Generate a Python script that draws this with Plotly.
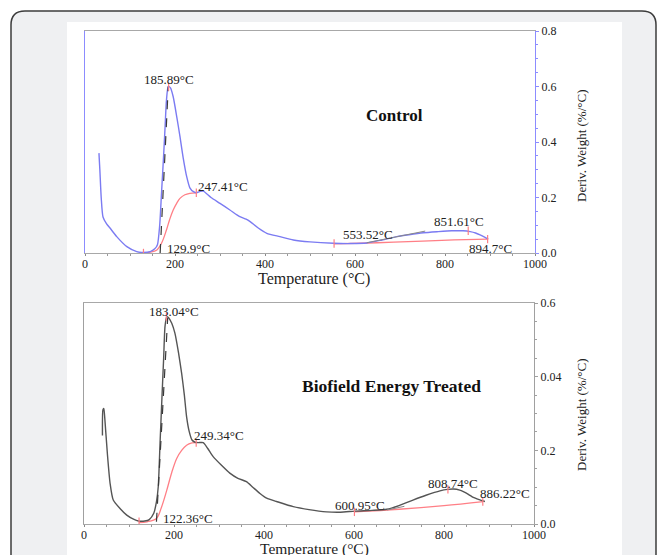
import plotly.graph_objects as go

W, H = 666, 555

# ---------------- data ----------------
x_ticks = [0, 200, 400, 600, 800, 1000]

# Control DTG curve
ctrl_T = [31, 33, 36, 40, 48, 56, 70, 93, 115, 126, 145, 155, 161, 166, 170, 175, 178, 181, 185,
          190, 196, 204, 211, 218, 226, 233, 241, 248, 256, 263, 280, 300, 322, 344, 358, 367,
          385, 404, 433, 463, 500, 552, 590, 626, 660, 693, 720, 752, 785, 815, 840, 856, 868,
          878, 888, 896]
ctrl_dtg = [0.36, 0.30, 0.20, 0.13, 0.105, 0.089, 0.06, 0.023, 0.005, 0.002, 0.005, 0.015, 0.03,
            0.10, 0.215, 0.36, 0.455, 0.55, 0.60, 0.595, 0.563, 0.49, 0.42, 0.345, 0.275, 0.235,
            0.221, 0.217, 0.222, 0.223, 0.20, 0.179, 0.155, 0.131, 0.122, 0.113, 0.09, 0.071,
            0.059, 0.047, 0.040, 0.035, 0.034, 0.036, 0.047, 0.059, 0.066, 0.073, 0.077, 0.080,
            0.080, 0.077, 0.072, 0.065, 0.057, 0.050]
ctrl_base1_T = [130, 145, 159, 170, 181, 188, 196, 204, 211, 222, 233, 247]
ctrl_base1_v = [0.0, 0.003, 0.01, 0.035, 0.083, 0.12, 0.155, 0.18, 0.197, 0.21, 0.215, 0.217]
ctrl_base2_T = [553, 650, 750, 820, 896]
ctrl_base2_v = [0.033, 0.037, 0.043, 0.047, 0.050]
ctrl_tan1_T = [167, 185]
ctrl_tan1_v = [0.0, 0.60]
ctrl_tan2_T = [626, 756]
ctrl_tan2_v = [0.037, 0.079]
ctrl_mark_T = [129.9, 185.89, 247.41, 553.52, 851.61, 894.7]
ctrl_mark_v = [0.0, 0.60, 0.217, 0.034, 0.080, 0.050]
ctrl_labels = ["185.89°C", "247.41°C", "129.9°C", "553.52°C", "851.61°C", "894.7°C"]
ctrl_label_T = [187, 307, 229, 629, 831, 902]
ctrl_label_v = [0.627, 0.241, 0.018, 0.065, 0.112, 0.018]
ctrl_y_ticks = [0.0, 0.2, 0.4, 0.6, 0.8]
ctrl_y_ticktext = ["0.0", "0.2", "0.4", "0.6", "0.8"]

# Biofield Energy Treated DTG curve
trt_T = [41, 42, 44, 46, 52, 58, 65, 80, 95, 110, 121, 135, 145, 155, 161, 165, 169, 173, 177,
         180, 184, 188, 195, 202, 210, 217, 223, 228, 234, 240, 247, 254, 265, 275, 287, 305,
         324, 342, 361, 375, 391, 406, 428, 465, 500, 539, 570, 602, 640, 673, 700, 731, 760,
         791, 808, 821, 835, 843, 855, 865, 878, 891]
trt_dtg = [0.24, 0.31, 0.314, 0.29, 0.19, 0.11, 0.065, 0.042, 0.024, 0.013, 0.008, 0.008, 0.012,
           0.029, 0.06, 0.101, 0.22, 0.337, 0.45, 0.536, 0.563, 0.56, 0.545, 0.518, 0.465, 0.409,
           0.35, 0.291, 0.25, 0.228, 0.222, 0.221, 0.221, 0.205, 0.183, 0.16, 0.138, 0.124,
           0.115, 0.10, 0.083, 0.070, 0.061, 0.047, 0.039, 0.033, 0.032, 0.035, 0.037, 0.040,
           0.050, 0.065, 0.078, 0.090, 0.094, 0.095, 0.092, 0.088, 0.080, 0.072, 0.066, 0.061]
trt_base1_T = [122, 140, 161, 172, 184, 195, 206, 217, 228, 240, 249]
trt_base1_v = [0.004, 0.006, 0.015, 0.045, 0.092, 0.14, 0.178, 0.2, 0.214, 0.22, 0.221]
trt_base2_T = [601, 700, 800, 887]
trt_base2_v = [0.033, 0.040, 0.050, 0.061]
trt_tan1_T = [161, 186]
trt_tan1_v = [0.006, 0.56]
trt_tan2_T = [673, 712]
trt_tan2_v = [0.038, 0.048]
trt_mark_T = [122.36, 183.04, 249.34, 600.95, 808.74, 886.22]
trt_mark_v = [0.006, 0.563, 0.221, 0.033, 0.094, 0.061]
trt_labels = ["183.04°C", "249.34°C", "122.36°C", "600.95°C", "808.74°C", "886.22°C"]
trt_label_T = [200, 300, 231, 613, 820, 936]
trt_label_v = [0.578, 0.239, 0.016, 0.049, 0.111, 0.084]
trt_y_ticks = [0.0, 0.2, 0.4, 0.6]
trt_y_ticktext = ["0.0", "0.2", "0.04", "0.6"]

x_title = "Temperature (°C)"
y_title = "Deriv. Weight (%/°C)"
panel_titles = ["Control", "Biofield Energy Treated"]

# ---------------- styling helpers ----------------
SERIF = "Liberation Serif, Times New Roman, serif"
BLUE = "#7b7bf2"
RED = "#ff7f86"
DARK = "#555555"
TAN = "#3a3a3a"


def px(x):
    return x / W


def py(y):
    return 1 - y / H


def frame_path(x0, y0, x1, y1, r, closed):
    pts = [
        ("M", [(x0, y1)]),
        ("L", [(x0, y0 + r)]),
        ("Q", [(x0, y0), (x0 + r, y0)]),
        ("L", [(x1 - r, y0)]),
        ("Q", [(x1, y0), (x1, y0 + r)]),
        ("L", [(x1, y1)]),
    ]
    s = ""
    for cmd, ps in pts:
        s += cmd + " " + " ".join(f"{px(a):.5f},{py(b):.5f}" for a, b in ps) + " "
    return s + ("Z" if closed else "")


fig = go.Figure()


def add_panel(T, v, b1T, b1v, b2T, b2v, t1T, t1v, t2T, t2v, mT, mv, main_color, xa, ya):
    fig.add_trace(go.Scatter(x=b1T, y=b1v, mode="lines", line=dict(color=RED, width=1.3, shape="spline"),
                             xaxis=xa, yaxis=ya, hoverinfo="skip"))
    fig.add_trace(go.Scatter(x=b2T, y=b2v, mode="lines", line=dict(color=RED, width=1.3, shape="spline"),
                             xaxis=xa, yaxis=ya, hoverinfo="skip"))
    fig.add_trace(go.Scatter(x=T, y=v, mode="lines",
                             line=dict(color=main_color, width=1.4, shape="spline", smoothing=0.6),
                             xaxis=xa, yaxis=ya, hoverinfo="skip"))
    fig.add_trace(go.Scatter(x=t1T, y=t1v, mode="lines", line=dict(color=TAN, width=1.2, dash="dash"),
                             xaxis=xa, yaxis=ya, hoverinfo="skip"))
    fig.add_trace(go.Scatter(x=t2T, y=t2v, mode="lines", line=dict(color="#888888", width=1),
                             xaxis=xa, yaxis=ya, hoverinfo="skip"))
    fig.add_trace(go.Scatter(x=mT, y=mv, mode="markers",
                             marker=dict(symbol="line-ns", size=6, line=dict(color=RED, width=1.2)),
                             xaxis=xa, yaxis=ya, hoverinfo="skip"))


add_panel(ctrl_T, ctrl_dtg, ctrl_base1_T, ctrl_base1_v, ctrl_base2_T, ctrl_base2_v,
          ctrl_tan1_T, ctrl_tan1_v, ctrl_tan2_T, ctrl_tan2_v, ctrl_mark_T, ctrl_mark_v, BLUE, "x", "y")
add_panel(trt_T, trt_dtg, trt_base1_T, trt_base1_v, trt_base2_T, trt_base2_v,
          trt_tan1_T, trt_tan1_v, trt_tan2_T, trt_tan2_v, trt_mark_T, trt_mark_v, DARK, "x2", "y2")

tickfont = dict(family=SERIF, size=12, color="#222222")


def xaxis_cfg(dom, anchor):
    return dict(domain=dom, anchor=anchor, range=[0, 1000], tickmode="array", tickvals=x_ticks,
                ticktext=[str(t) for t in x_ticks], ticks="outside", ticklen=2, tickcolor="#888",
                showline=True, linecolor="#a8a8a8", linewidth=1.2, mirror=True, showgrid=False,
                zeroline=False, tickfont=tickfont, automargin=False, ticklabelstandoff=-3,
                minor=dict(dtick=50, ticks="outside", ticklen=2, tickcolor="#999"))


def yaxis_cfg(dom, anchor, tv, tt, rng, color):
    return dict(domain=dom, anchor=anchor, side="right", range=rng, tickmode="array", tickvals=tv,
                ticktext=tt, ticks="outside", ticklen=3, tickcolor=color, showline=True,
                linecolor=color, linewidth=1.2, mirror=True, showgrid=False, zeroline=False,
                tickfont=tickfont, automargin=False,
                minor=dict(dtick=0.05, ticks="outside", ticklen=2, tickcolor=color))


def note(x, y, text, size, xref="paper", yref="paper", angle=0, color="#222"):
    return dict(x=x, y=y, xref=xref, yref=yref, text=text, showarrow=False, textangle=angle,
                xanchor="center", yanchor="middle",
                font=dict(family=SERIF, size=size, color=color))


annotations = []
for lab, t, v in zip(ctrl_labels, ctrl_label_T, ctrl_label_v):
    annotations.append(note(t, v, lab, 13, "x", "y"))
for lab, t, v in zip(trt_labels, trt_label_T, trt_label_v):
    annotations.append(note(t, v, lab, 13, "x2", "y2"))

annotations += [
    note(px(394), py(116), "<b>" + panel_titles[0] + "</b>", 17, color="#111"),
    note(px(392), py(386), "<b>" + panel_titles[1] + "</b>", 17.5, color="#111"),
    note(px(314), py(279), x_title, 16),
    note(px(314), py(548.5), x_title, 15.5),
    note(px(581), py(146), y_title, 13, angle=-90),
    note(px(581), py(415), y_title, 13, angle=-90),
]

shapes = [
    dict(type="path", xref="paper", yref="paper", path=frame_path(11, 11, 656, 555, 14, True),
         fillcolor="#eff0f2", line=dict(width=0), layer="below"),
    dict(type="path", xref="paper", yref="paper", path=frame_path(11, 11, 656, 555, 14, False),
         fillcolor="rgba(0,0,0,0)", line=dict(color="#3c3c3c", width=1.5), layer="below"),
    dict(type="rect", xref="paper", yref="paper", x0=px(67), x1=px(622), y0=0, y1=py(22),
         fillcolor="white", line=dict(width=0), layer="below"),
]

fig.update_layout(
    width=W, height=H,
    margin=dict(l=0, r=0, t=0, b=0, pad=0, autoexpand=False),
    paper_bgcolor="white", plot_bgcolor="rgba(0,0,0,0)",
    showlegend=False,
    xaxis=xaxis_cfg([px(85), px(535)], "y"),
    yaxis=yaxis_cfg([py(253), py(31)], "x", ctrl_y_ticks, ctrl_y_ticktext, [0, 0.8], "#8c8cff"),
    xaxis2=xaxis_cfg([px(84), px(534)], "y2"),
    yaxis2=yaxis_cfg([py(524), py(303)], "x2", trt_y_ticks, trt_y_ticktext, [0, 0.6], "#a0a0a0"),
    annotations=annotations,
    shapes=shapes,
)

fig.write_html(
    "out.html",
    config={"responsive": False, "displayModeBar": False},
    post_script="document.body.style.margin='0';document.body.style.overflow='hidden';",
)
